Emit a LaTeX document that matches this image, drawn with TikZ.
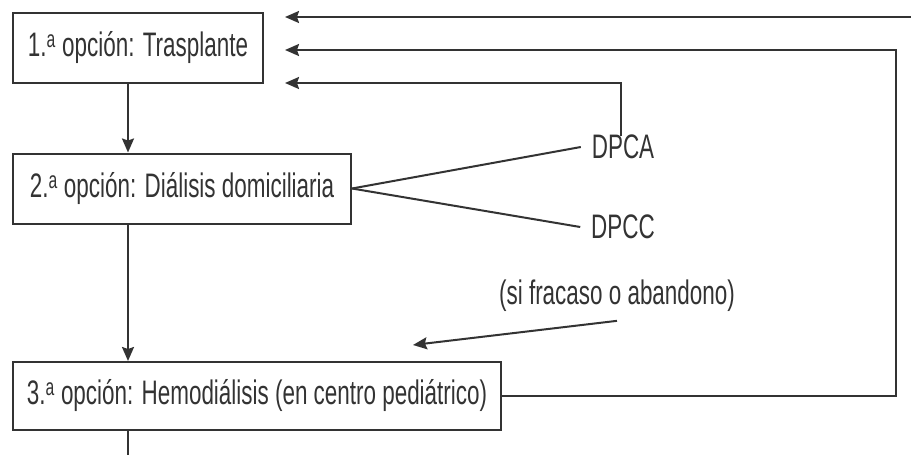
\documentclass[tikz,border=0pt]{standalone}
\usepackage{fontspec}
\setmainfont{Liberation Sans}[FakeStretch=0.66]
\usetikzlibrary{arrows.meta}
\definecolor{ink}{rgb}{0.2, 0.2, 0.2}

\begin{document}
\begin{tikzpicture}[x=1pt, y=-1pt, line width=2pt, color=ink,
  box/.style={draw, rectangle, minimum height=70pt, inner sep=0pt},
  lbl/.style={inner sep=10pt},
  arr/.style={-{Stealth[length=14pt, width=12pt, inset=2pt]}},
  every node/.style={font=\fontsize{34}{38}\selectfont}]
\useasboundingbox (0, 0) rectangle (911, 455);
\node [box, minimum width=250pt] (opt1) at (138, 48) {1.\textsuperscript{a} opción: Trasplante};
\node [box, minimum width=338pt] (opt2) at (182, 188.5) {2.\textsuperscript{a} opción: Diálisis domiciliaria};
\node [box, minimum width=488pt, minimum height=68pt] (opt3) at (257, 396) {3.\textsuperscript{a} opción: Hemodiálisis (en centro pediátrico)};
\node [lbl] (dpca) at (623, 147) {DPCA};
\node [lbl] (dpcc) at (623, 227) {DPCC};
\node [lbl] (fracaso) at (617, 296) {(si fracaso o abandono)};
\coordinate (spine) at (128, 0);
\coordinate (far) at (911, 17);
\coordinate (back) at (896, 50);
\coordinate (t1) at (285, 17);
\coordinate (t2) at (285, 50);
\coordinate (t3) at (285, 83);
\coordinate (hit) at (413, 345);
\coordinate (down) at (128, 455);
% vertical chain
\draw [arr] (opt1.south -| spine) -- (opt2.north -| spine);
\draw [arr] (opt2.south -| spine) -- (opt3.north -| spine);
\draw (opt3.south -| spine) -- (down);
% returns to the first option
\draw [arr] (far) -- (t1);
\draw [arr] (opt3.east) -| (back) -- (t2);
\draw [arr] ([xshift=-2pt, yshift=-12pt]dpca.north) |- (t3);
% peritoneal modes
\draw (opt2.east) -- (dpca.west);
\draw (opt2.east) -- (dpcc.west);
\draw [arr] ([yshift=2pt]fracaso.south) -- (hit);
\end{tikzpicture}
\end{document}
